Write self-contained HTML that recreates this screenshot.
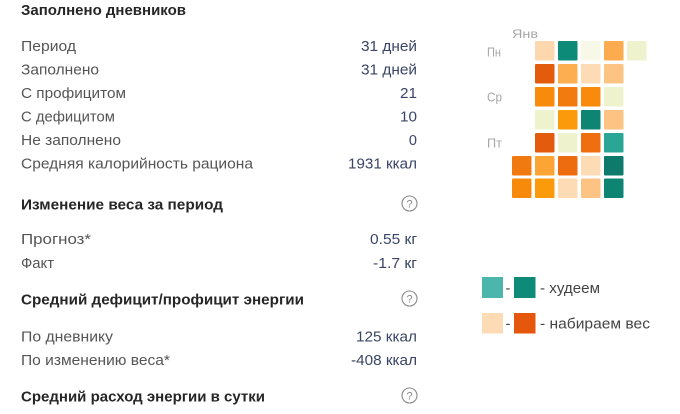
<!DOCTYPE html>
<html><head><meta charset="utf-8"><style>
html,body{margin:0;padding:0;background:#fff;width:680px;height:414px;overflow:hidden}
svg{display:block}
.h{font-family:"Liberation Sans",sans-serif;font-weight:bold;font-size:14.5px;fill:#262626}
.l{font-family:"Liberation Sans",sans-serif;font-size:14.5px;fill:#555}
.v{font-family:"Liberation Sans",sans-serif;font-size:14.5px;fill:#3a4566}
.d{font-family:"Liberation Sans",sans-serif;font-size:12.5px;fill:#a6a6a6}
.g{font-family:"Liberation Sans",sans-serif;font-size:14.5px;fill:#444}
</style></head><body>
<svg width="680" height="414" viewBox="0 0 680 414" xmlns="http://www.w3.org/2000/svg">
<rect width="680" height="414" fill="#fff"/>
<text class="h" x="21" y="15" textLength="165" lengthAdjust="spacingAndGlyphs">Заполнено дневников</text>

<text class="l" x="21" y="51" textLength="55" lengthAdjust="spacingAndGlyphs">Период</text>
<text class="l" x="21" y="74.5" textLength="78" lengthAdjust="spacingAndGlyphs">Заполнено</text>
<text class="l" x="21" y="98" textLength="105" lengthAdjust="spacingAndGlyphs">С профицитом</text>
<text class="l" x="21" y="121.5" textLength="94" lengthAdjust="spacingAndGlyphs">С дефицитом</text>
<text class="l" x="21" y="145" textLength="100" lengthAdjust="spacingAndGlyphs">Не заполнено</text>
<text class="l" x="21" y="168.5" textLength="232" lengthAdjust="spacingAndGlyphs">Средняя калорийность рациона</text>

<text class="v" x="417" y="51" text-anchor="end" textLength="56" lengthAdjust="spacingAndGlyphs">31 дней</text>
<text class="v" x="417" y="74.5" text-anchor="end" textLength="56" lengthAdjust="spacingAndGlyphs">31 дней</text>
<text class="v" x="417" y="98" text-anchor="end" textLength="17" lengthAdjust="spacingAndGlyphs">21</text>
<text class="v" x="417" y="121.5" text-anchor="end" textLength="17" lengthAdjust="spacingAndGlyphs">10</text>
<text class="v" x="417" y="145" text-anchor="end">0</text>
<text class="v" x="417" y="168.5" text-anchor="end" textLength="69" lengthAdjust="spacingAndGlyphs">1931 ккал</text>

<text class="h" x="21" y="209.5" textLength="202" lengthAdjust="spacingAndGlyphs">Изменение веса за период</text>
<g fill="none" stroke="#8a8a8a" stroke-width="1.1"><circle cx="409.5" cy="203.5" r="7.5"/></g>
<text x="409.5" y="207.5" text-anchor="middle" style="font-family:'Liberation Sans',sans-serif;font-size:11px;fill:#8a8a8a">?</text>

<text class="l" x="21" y="244" textLength="70" lengthAdjust="spacingAndGlyphs">Прогноз*</text>
<text class="l" x="21" y="268" textLength="33" lengthAdjust="spacingAndGlyphs">Факт</text>
<text class="v" x="417" y="244" text-anchor="end" textLength="47" lengthAdjust="spacingAndGlyphs">0.55 кг</text>
<text class="v" x="417" y="268" text-anchor="end" textLength="44" lengthAdjust="spacingAndGlyphs">-1.7 кг</text>

<text class="h" x="21" y="304.5" textLength="283" lengthAdjust="spacingAndGlyphs">Средний дефицит/профицит энергии</text>
<g fill="none" stroke="#8a8a8a" stroke-width="1.1"><circle cx="409.5" cy="298.5" r="7.5"/></g>
<text x="409.5" y="302.5" text-anchor="middle" style="font-family:'Liberation Sans',sans-serif;font-size:11px;fill:#8a8a8a">?</text>

<text class="l" x="21" y="341.5" textLength="92" lengthAdjust="spacingAndGlyphs">По дневнику</text>
<text class="l" x="21" y="365" textLength="149" lengthAdjust="spacingAndGlyphs">По изменению веса*</text>
<text class="v" x="417" y="341.5" text-anchor="end" textLength="61" lengthAdjust="spacingAndGlyphs">125 ккал</text>
<text class="v" x="417" y="365" text-anchor="end" textLength="66" lengthAdjust="spacingAndGlyphs">-408 ккал</text>

<text class="h" x="21" y="401.5" textLength="244" lengthAdjust="spacingAndGlyphs">Средний расход энергии в сутки</text>
<g fill="none" stroke="#8a8a8a" stroke-width="1.1"><circle cx="409.5" cy="395.5" r="7.5"/></g>
<text x="409.5" y="399.5" text-anchor="middle" style="font-family:'Liberation Sans',sans-serif;font-size:11px;fill:#8a8a8a">?</text>

<!-- calendar labels -->
<text class="d" x="512" y="38" style="font-size:11.5px" textLength="26" lengthAdjust="spacingAndGlyphs">Янв</text>
<text class="d" x="487" y="56.5" textLength="14" lengthAdjust="spacingAndGlyphs">Пн</text>
<text class="d" x="487" y="101.5" textLength="15" lengthAdjust="spacingAndGlyphs">Ср</text>
<text class="d" x="487" y="147.5" textLength="15" lengthAdjust="spacingAndGlyphs">Пт</text>

<g>
<!-- row1 y=41 -->
<rect x="535" y="41" width="19.5" height="19.5" rx="1" fill="#fdd8ae"/>
<rect x="558" y="41" width="19.5" height="19.5" rx="1" fill="#0e8a78"/>
<rect x="581" y="41" width="19.5" height="19.5" rx="1" fill="#f8f8e8"/>
<rect x="604" y="41" width="19.5" height="19.5" rx="1" fill="#fcab4f"/>
<rect x="627" y="41" width="19.5" height="19.5" rx="1" fill="#eef3cd"/>
<!-- row2 y=64 -->
<rect x="535" y="64" width="19.5" height="19.5" rx="1" fill="#e35b0d"/>
<rect x="558" y="64" width="19.5" height="19.5" rx="1" fill="#fdae50"/>
<rect x="581" y="64" width="19.5" height="19.5" rx="1" fill="#fddbb5"/>
<rect x="604" y="64" width="19.5" height="19.5" rx="1" fill="#fdc382"/>
<!-- row3 y=87 -->
<rect x="535" y="87" width="19.5" height="19.5" rx="1" fill="#f98b0c"/>
<rect x="558" y="87" width="19.5" height="19.5" rx="1" fill="#f27b10"/>
<rect x="581" y="87" width="19.5" height="19.5" rx="1" fill="#f98a0c"/>
<rect x="604" y="87" width="19.5" height="19.5" rx="1" fill="#eef3cd"/>
<!-- row4 y=110 -->
<rect x="535" y="110" width="19.5" height="19.5" rx="1" fill="#eef3cd"/>
<rect x="558" y="110" width="19.5" height="19.5" rx="1" fill="#fb9a0a"/>
<rect x="581" y="110" width="19.5" height="19.5" rx="1" fill="#0e8573"/>
<rect x="604" y="110" width="19.5" height="19.5" rx="1" fill="#fdc382"/>
<!-- row5 y=133 -->
<rect x="535" y="133" width="19.5" height="19.5" rx="1" fill="#e35b0d"/>
<rect x="558" y="133" width="19.5" height="19.5" rx="1" fill="#eef3cd"/>
<rect x="581" y="133" width="19.5" height="19.5" rx="1" fill="#ef6f10"/>
<rect x="604" y="133" width="19.5" height="19.5" rx="1" fill="#2ba596"/>
<!-- row6 y=156 -->
<rect x="512" y="156" width="19.5" height="19.5" rx="1" fill="#f07a10"/>
<rect x="535" y="156" width="19.5" height="19.5" rx="1" fill="#fca534"/>
<rect x="558" y="156" width="19.5" height="19.5" rx="1" fill="#ee6c10"/>
<rect x="581" y="156" width="19.5" height="19.5" rx="1" fill="#fddbb5"/>
<rect x="604" y="156" width="19.5" height="19.5" rx="1" fill="#0e7a6b"/>
<!-- row7 y=178.5 -->
<rect x="512" y="178.5" width="19.5" height="19.5" rx="1" fill="#f88a0b"/>
<rect x="535" y="178.5" width="19.5" height="19.5" rx="1" fill="#fb9a0a"/>
<rect x="558" y="178.5" width="19.5" height="19.5" rx="1" fill="#fddbb5"/>
<rect x="581" y="178.5" width="19.5" height="19.5" rx="1" fill="#fdc382"/>
<rect x="604" y="178.5" width="19.5" height="19.5" rx="1" fill="#0e8573"/>
</g>

<!-- legend -->
<rect x="482" y="277" width="21" height="21" fill="#4db6ac"/>
<text class="g" x="505.5" y="293">-</text>
<rect x="514" y="277" width="21.5" height="21" fill="#0e8a78"/>
<text class="g" x="540" y="293" textLength="60" lengthAdjust="spacingAndGlyphs">- худеем</text>

<rect x="482" y="313" width="21" height="20.5" fill="#fddbb5"/>
<text class="g" x="505.5" y="328.5">-</text>
<rect x="514" y="313" width="21.5" height="20.5" fill="#e4570c"/>
<text class="g" x="540" y="328.5" textLength="110" lengthAdjust="spacingAndGlyphs">- набираем вес</text>
</svg>
</body></html>
